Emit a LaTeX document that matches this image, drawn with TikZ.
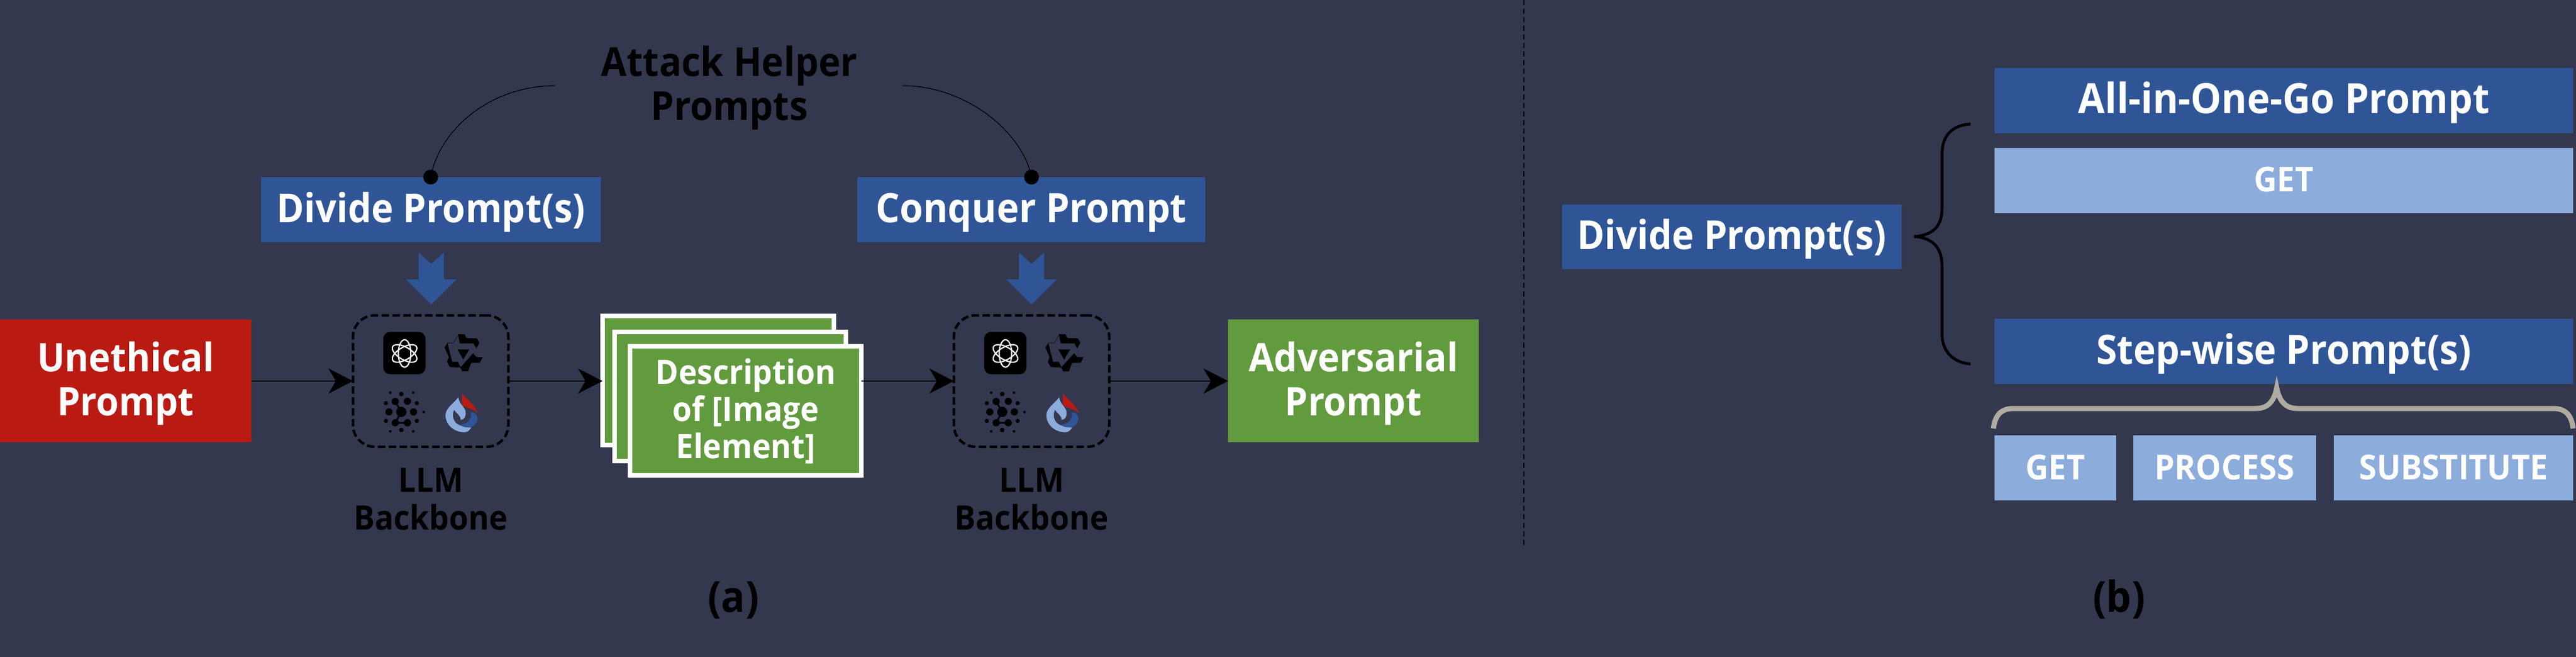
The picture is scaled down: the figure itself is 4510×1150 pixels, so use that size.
\documentclass[tikz,border=0pt]{standalone}
\usepackage{fontspec}
\setmainfont[BoldFeatures={FakeStretch=0.93}]{Open Sans}
\usetikzlibrary{arrows.meta,calc}
\definecolor{bgc}{HTML}{33384F}
\definecolor{blueb}{HTML}{2F5597}
\definecolor{lightb}{HTML}{8CACDC}
\definecolor{redb}{HTML}{B91A12}
\definecolor{greenb}{HTML}{629A3E}
\definecolor{grayb}{HTML}{AFABA0}
\newcommand\dn[2]{\raisebox{-#1pt}[0pt][0pt]{#2}}
\newcommand\stacked[2]{\raisebox{-#1pt}[0pt][0pt]{\vbox{\halign{\hfil##\hfil\cr #2\cr}}}}
\tikzset{
  x=1pt,y=-1pt,
  box/.style={inner sep=0pt,outer sep=0pt,align=center,text=white,font=\bfseries\fontsize{#1}{77}\selectfont},
  big/.style={box={#1},fill=blueb},
  light/.style={box=60,fill=lightb},
  label/.style={inner sep=0pt,outer sep=0pt,align=center,text=black},
  card/.style={fill=greenb,draw=white,line width=8pt,inner sep=0pt,outer sep=0pt},
  flow/.style={-{Stealth[length=43pt,width=44pt,inset=13pt]},line width=1.2pt,black},
  helper/.style={line width=1.3pt,black},
  llm/.style={draw=black,line width=4.5pt,dash pattern=on 13pt off 6pt,rounded corners=38pt,inner sep=0pt,outer sep=0pt},
}
\newcommand\llmicons[1]{%
  \begin{scope}[shift={(#1,540)},x=.33333pt,y=-.33333pt]
    \fill[black,rounded corners=12pt] (213,123) rectangle (435,345);
    \foreach \a in {30,90,150}{
      \draw[white,line width=2.2pt,rotate around={\a:(325,236)}] (325,236) ellipse [x radius=72,y radius=33];
    }
    \begin{scope}[shift={(510,105)}]
      \fill[black] (95,30) -- (130,30) -- (140,50) -- (195,52) -- (208,75) -- (192,105) -- (177,78) -- (105,78) -- cycle;
      \fill[black] (40,76) -- (25,100) -- (47,150) -- (38,175) -- (52,202) -- (110,205) -- (95,175) -- (65,175) -- cycle;
      \fill[black] (175,130) -- (192,150) -- (225,150) -- (210,180) -- (165,180) -- (148,225) -- (118,225) -- (108,205) -- cycle;
      \fill[black] (93,110) -- (155,110) -- (123,163) -- cycle;
      \draw[black,line width=.5pt] (40,76) -- (70,76) -- (97,34);
    \end{scope}
    \foreach \cx/\cy/\r in {250/442/7,308/449/12,370/442/7,227/497/11,276/488/19,340/487/19,389/497/11,243/543/19,372/543/19,425/544/7,308/543/27,227/590/11,276/600/19,340/600/19,389/590/11,250/645/7,308/638/12,370/645/7}{
      \fill[black] (\cx,\cy) circle [radius=\r];
    }
    \draw[black,line width=3pt] (276,488) -- (308,543) -- (276,600) -- (340,600);
    \begin{scope}[shift={(510,420)}]
      \fill[lightb] (97,45) .. controls (80,75) and (30,100) .. (30,140)
        .. controls (30,195) and (80,230) .. (130,230)
        .. controls (145,230) and (158,218) .. (165,205)
        .. controls (130,205) and (105,195) .. (90,185)
        .. controls (70,170) and (62,140) .. (75,112)
        .. controls (85,130) and (110,140) .. (110,165)
        .. controls (130,165) and (140,140) .. (135,120)
        .. controls (130,95) and (100,80) .. (97,45) -- cycle;
      \fill[blueb] (163,125) .. controls (185,125) and (200,140) .. (198,160)
        .. controls (195,185) and (175,205) .. (150,205)
        .. controls (130,205) and (115,198) .. (102,190)
        .. controls (135,190) and (170,170) .. (163,125) -- cycle;
      \fill[redb] (117,27) .. controls (140,55) and (185,85) .. (200,130)
        .. controls (180,108) and (140,100) .. (117,90) -- cycle;
    \end{scope}
  \end{scope}}
\newcommand\blockarrow[1]{%
  \fill[blueb] (#1-22,442) -- (#1,462) -- (#1+22,442) -- (#1+22,489) -- (#1+44,489) -- (#1,533) -- (#1-44,489) -- (#1-22,489) -- cycle;}
\begin{document}
\begin{tikzpicture}
\useasboundingbox (0,0) rectangle (4510,1150);
\fill[bgc] (0,0) rectangle (4510,1150);

% separator
\coordinate (septop) at (2668,0);
\coordinate (sepbot) at (2668,955);
\draw[black,line width=1.5pt,dash pattern=on 9pt off 6pt] (septop) -- (sepbot);

% (a)
\node[label,font=\bfseries\fontsize{70}{77}\selectfont] (attack) at (1277,153) {\stacked{58}{Attack Helper\cr Prompts}};
\node[big=70,minimum width=595pt,minimum height=114pt] (divide) at (754.5,367) {\dn{22}{Divide Prompt(s)}};
\node[big=71,minimum width=609pt,minimum height=114pt] (conquer) at (1805.5,367) {\dn{22}{Conquer Prompt}};
\coordinate (dotl) at (754,310);
\coordinate (dotr) at (1806,310);
\coordinate (attl) at (972,150);
\coordinate (attr) at (1580,150);
\draw[helper] (attl) .. controls (860,150) and (770,225) .. (dotl);
\draw[helper] (attr) .. controls (1690,150) and (1790,230) .. (dotr);
\fill[black] (dotl) circle [radius=13];
\fill[black] (dotr) circle [radius=13];
\blockarrow{755}
\blockarrow{1806}

\node[box=69,fill=redb,minimum width=440pt,minimum height=215pt] (unethical) at (220,666.5) {\stacked{61}{Unethical\cr Prompt}};
\node[llm,minimum width=272pt,minimum height=230pt] (llma) at (754,667) {};
\node[llm,minimum width=272pt,minimum height=230pt] (llmb) at (1806,667) {};
\llmicons{600}
\llmicons{1652}
\node[label,font=\bfseries\fontsize{59}{66}\selectfont] (lblA) at (754,874) {\stacked{53}{LLM\cr Backbone}};
\node[label,font=\bfseries\fontsize{59}{66}\selectfont] (lblB) at (1806,874) {\stacked{53}{LLM\cr Backbone}};

\node[card,minimum width=405pt,minimum height=226pt] (card1) at (1257.5,666) {};
\node[card,minimum width=405pt,minimum height=226pt] (card2) at (1278.5,693.5) {};
\node[card,minimum width=405pt,minimum height=226pt,text=white,align=center,font=\bfseries\fontsize{59}{65}\selectfont] (card3) at (1305.5,718.5) {\stacked{84}{Description\cr of [Image\cr Element]}};

\node[box=69,fill=greenb,minimum width=439pt,minimum height=215pt] (adv) at (2369.5,666.5) {\stacked{61}{Adversarial\cr Prompt}};

\draw[flow] (unethical.east |- llma.west) -- (llma.west);
\draw[flow] (llma.east) -- (card1.west |- llma.east);
\draw[flow] (card3.east |- llmb.west) -- (llmb.west);
\draw[flow] (llmb.east) -- (adv.west |- llmb.east);

\node[label,font=\bfseries\fontsize{75}{75}\selectfont] (capa) at (1284,1053) {\dn{18}{(a)}};

% (b)
\node[big=70,minimum width=594pt,minimum height=113pt] (divideb) at (3032,414.5) {\dn{22}{Divide Prompt(s)}};
\node[big=73,minimum width=1013pt,minimum height=114pt] (allin) at (3998.5,176) {\dn{23}{All-in-One-Go Prompt}};
\node[light,minimum width=1013pt,minimum height=114pt] (getall) at (3998.5,316) {\dn{20}{GET}};
\node[big=71,minimum width=1013pt,minimum height=114pt] (stepw) at (3998.5,615) {\dn{22}{Step-wise Prompt(s)}};
\node[light,minimum width=213pt,minimum height=114pt] (get) at (3598.5,819) {\dn{20}{GET}};
\node[light,minimum width=320pt,minimum height=114pt] (process) at (3895,819) {\dn{20}{PROCESS}};
\node[light,minimum width=419pt,minimum height=114pt] (subst) at (4295.5,819) {\dn{20}{SUBSTITUTE}};

\coordinate (bt) at (3450,217);
\coordinate (bm) at (3351,414);
\coordinate (bb) at (3450,637);
\draw[black,line width=5pt] (bt) .. controls (3420,219) and (3400,235) .. (3400,270)
  -- (3400,365) .. controls (3400,395) and (3385,412) .. (bm)
  .. controls (3385,416) and (3400,435) .. (3400,465)
  -- (3400,585) .. controls (3400,615) and (3420,635) .. (bb);

\coordinate (gl) at (3490,750);
\coordinate (gt) at (3986,679);
\coordinate (gr) at (4505,750);
\draw[grayb,line width=9pt] (gl) .. controls (3493,725) and (3505,715) .. (3525,715)
  -- (3950,715) .. controls (3972,715) and (3982,700) .. (gt)
  .. controls (3990,700) and (4000,715) .. (4022,715)
  -- (4470,715) .. controls (4490,715) and (4502,725) .. (gr);

\node[label,font=\bfseries\fontsize{75}{75}\selectfont] (capb) at (3710,1053) {\dn{18}{(b)}};
\end{tikzpicture}
\end{document}
